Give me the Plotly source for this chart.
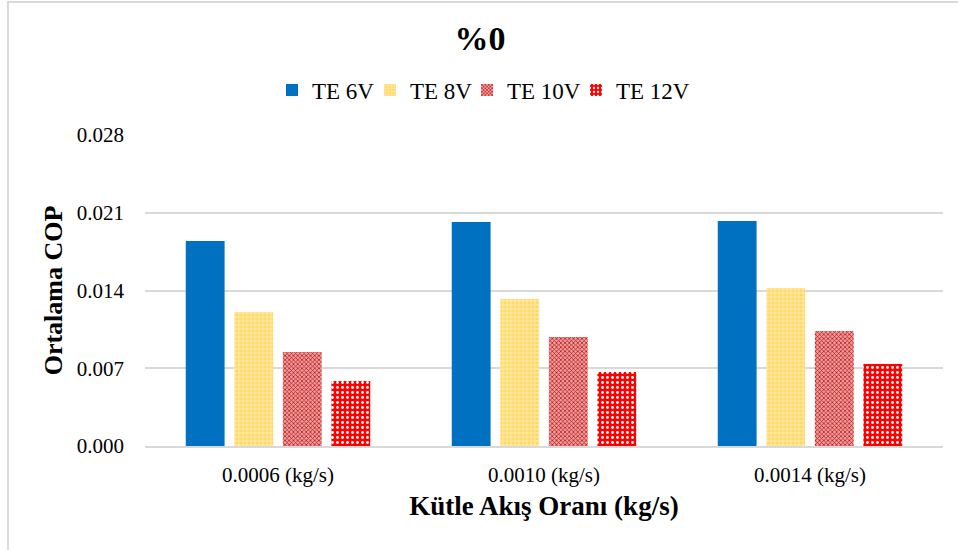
import plotly.graph_objects as go

# Mass flow rate categories and averaged COP per thermoelectric voltage
categories = ["0.0006 (kg/s)", "0.0010 (kg/s)", "0.0014 (kg/s)"]
te_6v = [0.01846, 0.02017, 0.02026]
te_8v = [0.01206, 0.01323, 0.01422]
te_10v = [0.00846, 0.00981, 0.01035]
te_12v = [0.00585, 0.00666, 0.00738]
y_ticks = [0.000, 0.007, 0.014, 0.021, 0.028]

FONT = "Liberation Serif, Times New Roman, serif"

PX0, PX1, PY0, PY1 = 145, 943, 135, 446  # plot area in pixels
W, H = 960, 550


def px_x(x):
    return (x - PX0) / (PX1 - PX0)


def px_y(y):
    return (PY1 - y) / (PY1 - PY0)


series = [
    ("TE 6V", te_6v, dict(color="#0070C0")),
    ("TE 8V", te_8v, dict(color="#FFD966",
                          pattern=dict(shape="+", fgcolor="#FFF2CC", bgcolor="#FFD966",
                                       size=4, solidity=0.3, fillmode="replace"))),
    ("TE 10V", te_10v, dict(color="#E06666",
                            pattern=dict(shape="x", fgcolor="#C00000", bgcolor="#EBA0A0",
                                         size=3, solidity=0.4, fillmode="replace"))),
    ("TE 12V", te_12v, dict(color="#FF0000",
                            pattern=dict(shape=".", fgcolor="#FFFFFF", bgcolor="#FF0000",
                                         size=5, solidity=0.25, fillmode="replace"))),
]

# Left edge of each legend entry's text, in pixels
legend_text_x = [312, 410, 507, 616]
legend_names = ["legend", "legend2", "legend3", "legend4"]

fig = go.Figure()
for (name, vals, marker), lg in zip(series, legend_names):
    fig.add_trace(go.Bar(name=name, x=categories, y=vals, legend=lg, showlegend=True,
                         marker=dict(line=dict(width=0), **marker)))

legend_layout = {}
for lg, tx in zip(legend_names, legend_text_x):
    legend_layout[lg] = dict(orientation="h", x=px_x(tx - 40), xanchor="left",
                             y=px_y(90), yanchor="middle", itemwidth=30,
                             font=dict(family=FONT, size=23), bgcolor="rgba(0,0,0,0)")

fig.update_layout(
    width=W, height=H, showlegend=True,
    paper_bgcolor="white", plot_bgcolor="white",
    font=dict(family=FONT, size=21, color="#000000"),
    margin=dict(l=PX0, r=W - PX1, t=PY0, b=H - PY1),
    barmode="group", bargap=0.27, bargroupgap=0.2,
    title=dict(text="<b>%0</b>", x=0.5, xanchor="center", y=1 - 38 / H, yanchor="middle",
               font=dict(family=FONT, size=34)),
    xaxis=dict(showgrid=False, showline=True, linecolor="#D9D9D9", linewidth=1.5,
               ticks="", ticklabelstandoff=9, tickfont=dict(family=FONT, size=21),
               title=dict(text="<b>Kütle Akış Oranı (kg/s)</b>",
                          font=dict(family=FONT, size=27), standoff=10)),
    yaxis=dict(range=[0, 0.028], tickvals=y_ticks, tickformat=".3f",
               showgrid=True, gridcolor="#D9D9D9", gridwidth=1.5,
               zeroline=False, ticks="", ticklabelstandoff=20,
               tickfont=dict(family=FONT, size=21),
               title=dict(text="<b>Ortalama COP</b>",
                          font=dict(family=FONT, size=26), standoff=6)),
    **legend_layout,
)

# Chart-area border on the left and top edges
fig.add_shape(type="line", xref="paper", yref="paper",
              x0=px_x(8), x1=px_x(8), y0=px_y(H), y1=px_y(1),
              line=dict(color="#D9D9D9", width=2))
fig.add_shape(type="line", xref="paper", yref="paper",
              x0=px_x(8), x1=px_x(958), y0=px_y(2), y1=px_y(2),
              line=dict(color="#D9D9D9", width=2))

fig.write_html("out.html")
